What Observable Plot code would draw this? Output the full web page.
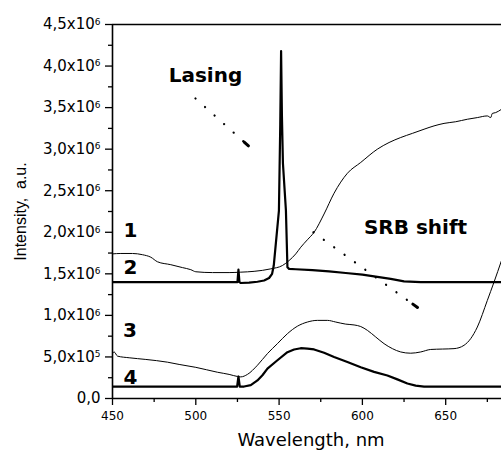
<!DOCTYPE html>
<html>
<head>
<meta charset="utf-8">
<script src="https://cdn.jsdelivr.net/npm/d3@7"></script>
<script src="https://cdn.jsdelivr.net/npm/@observablehq/plot@0.6"></script>
<style>
  html, body { margin: 0; padding: 0; background: #fff; }
  g[aria-label="y-axis tick label"] text { font-family: "DejaVu Sans", sans-serif; font-size: 15px; }
  g[aria-label="x-axis tick label"] text { font-family: "DejaVu Sans", sans-serif; font-size: 12px; }
</style>
</head>
<body>
<div id="chart"></div>
<script>
// Curve 1 (thin, upper pair)
const curve1 = [
  [450,1.74e6],[455,1.745e6],[462,1.745e6],[468,1.73e6],[473,1.70e6],[477,1.645e6],
  [485,1.61e6],[492,1.575e6],[497,1.55e6],[500,1.525e6],[510,1.515e6],[520,1.515e6],
  [527,1.52e6],[535,1.53e6],[545,1.56e6],[552,1.60e6],[556,1.66e6],[560,1.74e6],
  [563,1.82e6],[567,1.91e6],[571,2.0e6],[577,2.22e6],[583,2.47e6],[591,2.71e6],
  [599,2.84e6],[609,3.0e6],[616,3.08e6],[623,3.14e6],[630,3.19e6],[637,3.24e6],
  [643,3.28e6],[649,3.31e6],[656,3.33e6],[663,3.36e6],[669,3.38e6],[675,3.40e6],
  [677,3.38e6],[678,3.43e6],[680,3.44e6],[683.5,3.48e6]
];
// Curve 2 (thick, lasing)
const curve2 = [
  [450,1.40e6],[500,1.40e6],[525,1.40e6],[525.6,1.55e6],[526.2,1.40e6],[527,1.39e6],
  [532,1.395e6],[537,1.405e6],[541,1.42e6],[544,1.45e6],[545.8,1.50e6],[546.8,1.60e6],
  [549.9,2.26e6],[550.7,3.3e6],[551.2,4.18e6],[551.7,3.4e6],[552.3,2.83e6],[554.1,2.26e6],
  [555,1.58e6],[556,1.56e6],[560,1.555e6],[570,1.545e6],[580,1.53e6],[590,1.51e6],
  [600,1.49e6],[610,1.46e6],[617,1.44e6],[625,1.41e6],[635,1.40e6],[683.5,1.40e6]
];
// Curve 3 (thin, lower pair)
const curve3 = [
  [450,0.54e6],[451,0.56e6],[453,0.51e6],[460,0.49e6],[470,0.47e6],[483,0.437e6],
  [490,0.41e6],[500,0.375e6],[513,0.316e6],[520,0.29e6],[525,0.265e6],[527,0.26e6],
  [531,0.29e6],[537,0.40e6],[543,0.54e6],[549,0.66e6],[555,0.78e6],[561,0.87e6],
  [567,0.92e6],[573,0.94e6],[579,0.94e6],[584,0.92e6],[590,0.895e6],[595,0.885e6],
  [599,0.866e6],[603,0.82e6],[608,0.74e6],[613,0.66e6],[618,0.60e6],[623,0.56e6],
  [629,0.545e6],[635,0.56e6],[641,0.59e6],[648,0.595e6],[655,0.60e6],[661,0.64e6],
  [665,0.72e6],[669,0.86e6],[675,1.18e6],[679,1.40e6],[683.5,1.66e6]
];
// Curve 4 (thick, lower pair)
const curve4 = [
  [450,0.144e6],[524.8,0.144e6],[525.6,0.265e6],[526.4,0.144e6],[529,0.144e6],
  [533,0.16e6],[537,0.217e6],[540,0.28e6],[543,0.36e6],[549,0.46e6],[555,0.557e6],
  [559,0.59e6],[563,0.605e6],[567,0.60e6],[571,0.59e6],[577,0.55e6],[583,0.50e6],
  [591,0.44e6],[599,0.377e6],[607,0.32e6],[615,0.277e6],[621,0.23e6],[627,0.18e6],
  [632,0.155e6],[637,0.144e6],[683.5,0.144e6]
];

const xMajor = [450, 500, 550, 600, 650];
const xMinor = [475, 525, 575, 625, 675];
const yMajor = [0, 0.5e6, 1.0e6, 1.5e6, 2.0e6, 2.5e6, 3.0e6, 3.5e6, 4.0e6, 4.5e6];
const yMinor = [0.25e6, 0.75e6, 1.25e6, 1.75e6, 2.25e6, 2.75e6, 3.25e6, 3.75e6, 4.25e6];

const curveLabels = [
  {x: 460.8, y: 2.02e6, text: "1"},
  {x: 460.8, y: 1.576e6, text: "2"},
  {x: 460.5, y: 0.818e6, text: "3"},
  {x: 460.8, y: 0.253e6, text: "4"}
];
const notes = [
  {x: 505.8, y: 3.88e6, text: "Lasing"},
  {x: 631.9, y: 2.06e6, text: "SRB shift"}
];
const arrows = [
  {x1: 499.8, y1: 3.61e6, x2: 531.6, y2: 3.04e6},
  {x1: 570.6, y1: 2.0e6, x2: 633.1, y2: 1.095e6}
];
const headFrac = [0.08, 0.045];
const heads = arrows.map((a, i) => ({
  x1: a.x2 - (a.x2 - a.x1) * headFrac[i],
  y1: a.y2 - (a.y2 - a.y1) * headFrac[i],
  x2: a.x2, y2: a.y2
}));

function yfmt(v) {
  if (v === 0) return "0,0";
  const e = Math.floor(Math.log10(v) + 1e-9);
  const m = v / Math.pow(10, e);
  return m.toFixed(1).replace(".", ",") + "x10^" + e;
}

const thin = {x: d => d[0], y: d => d[1], stroke: "black", curve: "monotone-x", clip: true, strokeWidth: 1};
const thick = {x: d => d[0], y: d => d[1], stroke: "black", curve: "linear", clip: true, strokeWidth: 2.2, strokeLinejoin: "round"};

const chart = Plot.plot({
  width: 501,
  height: 453,
  marginLeft: 112,
  marginRight: 0,
  marginTop: 24,
  marginBottom: 55,
  style: {background: "white", color: "black"},
  x: {domain: [450, 683.5]},
  y: {domain: [0, 4.5e6]},
  marks: [
    Plot.axisY({ticks: yMajor, tickSize: 7, tickPadding: 5, tickFormat: yfmt, label: null, strokeWidth: 1.3}),
    Plot.axisY({ticks: yMinor, tickSize: 4, tickFormat: () => "", label: null, strokeWidth: 1.3}),
    Plot.axisX({ticks: xMajor, tickSize: 7, tickPadding: 6, tickFormat: d => String(d), label: null, strokeWidth: 1.3}),
    Plot.axisX({ticks: xMinor, tickSize: 4, tickFormat: () => "", label: null, strokeWidth: 1.3}),
    Plot.ruleX([450], {strokeWidth: 1.6}),
    Plot.ruleY([0, 4.5e6], {strokeWidth: 1.6}),
    Plot.line(curve1, thin),
    Plot.line(curve3, thin),
    Plot.line(curve2, thick),
    Plot.line(curve4, thick),
    Plot.link(arrows, {x1: "x1", y1: "y1", x2: "x2", y2: "y2", stroke: "black", strokeWidth: 2.2, strokeDasharray: "0.1,12.7", strokeLinecap: "round"}),
    Plot.link(heads, {x1: "x1", y1: "y1", x2: "x2", y2: "y2", stroke: "black", strokeWidth: 3, strokeLinecap: "round"}),
    Plot.text(curveLabels, {x: "x", y: "y", text: "text", fontFamily: "DejaVu Sans", fontWeight: "bold", fontSize: 20, fill: "black"}),
    Plot.text(notes, {x: "x", y: "y", text: "text", fontFamily: "DejaVu Sans", fontWeight: "bold", fontSize: 20, fill: "black"}),
    Plot.text(["Intensity,  a.u."], {frameAnchor: "left", dx: -92, rotate: -90, textAnchor: "middle", fontFamily: "Liberation Sans", fontSize: 16, fill: "black"}),
    Plot.text(["Wavelength, nm"], {frameAnchor: "bottom", dx: 4, dy: 47, fontFamily: "DejaVu Sans", fontSize: 18, fill: "black"})
  ]
});

const ns = "http://www.w3.org/2000/svg";
chart.querySelectorAll('g[aria-label="y-axis tick label"] text').forEach(t => {
  const s = t.textContent;
  if (s.includes("^")) {
    const [a, b] = s.split("^");
    t.textContent = "";
    const t1 = document.createElementNS(ns, "tspan");
    t1.textContent = a;
    const t2 = document.createElementNS(ns, "tspan");
    t2.setAttribute("dy", "-0.5em");
    t2.setAttribute("font-size", "9");
    t2.textContent = b;
    t.appendChild(t1);
    t.appendChild(t2);
  }
});
document.getElementById("chart").appendChild(chart);
</script>
</body>
</html>
